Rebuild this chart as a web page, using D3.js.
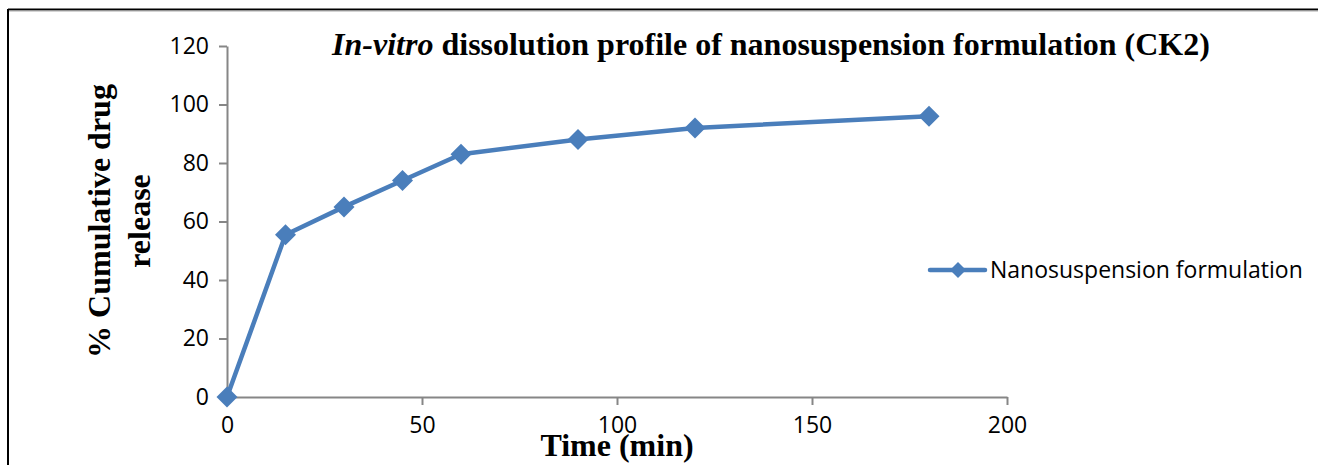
<!DOCTYPE html>
<html>
<head>
<meta charset="utf-8">
<script src="https://cdn.jsdelivr.net/npm/d3@7"></script>
<style>
  html, body { margin: 0; padding: 0; background: #fff; }
  svg { display: block; }
</style>
</head>
<body>
<svg id="chart" width="1318" height="465"></svg>
<script>
const times = [0, 15, 30, 45, 60, 90, 120, 180];
const release = [0, 55.5, 65, 74, 83, 88, 92, 96];
const seriesName = "Nanosuspension formulation";
const xTicks = [0, 50, 100, 150, 200];
const yTicks = [0, 20, 40, 60, 80, 100, 120];
const titleItalic = "In-vitro";
const titleRest = " dissolution profile of nanosuspension formulation (CK2)";
const yLabelLines = ["% Cumulative drug", "release"];
const xLabel = "Time (min)";

const svg = d3.select("#chart");
const W = 1318, H = 465;
const blue = "#4a7ebb";
const axisGray = "#868686";
const tickFont = "'Open Sans', 'Noto Sans', sans-serif";
const serif = "'Liberation Serif', 'Times New Roman', serif";

svg.append("rect").attr("width", W).attr("height", H).attr("fill", "#fff");

// outer frame (top and left visible)
svg.append("line").attr("x1", 8).attr("x2", W).attr("y1", 9.5).attr("y2", 9.5)
  .attr("stroke", "#000").attr("stroke-width", 2);
svg.append("line").attr("x1", 8).attr("x2", W).attr("y1", 11).attr("y2", 11)
  .attr("stroke", "#aaa").attr("stroke-width", 1);
svg.append("line").attr("x1", 8).attr("x2", 8).attr("y1", 9).attr("y2", H)
  .attr("stroke", "#000").attr("stroke-width", 2);

const x = d3.scaleLinear().domain([0, 200]).range([227, 1007]);
const y = d3.scaleLinear().domain([0, 120]).range([397, 46]);

// y axis
const yAxis = svg.append("g").attr("transform", `translate(${x(0)},0)`)
  .call(d3.axisLeft(y).tickValues(yTicks).tickSize(8).tickPadding(10).tickSizeOuter(0));
// x axis
const xAxis = svg.append("g").attr("transform", `translate(0,${y(0)})`)
  .call(d3.axisBottom(x).tickValues(xTicks).tickSize(8).tickPadding(12).tickSizeOuter(0));

[yAxis, xAxis].forEach(g => {
  g.select(".domain").attr("stroke", axisGray).attr("stroke-width", 2);
  g.selectAll(".tick line").attr("stroke", axisGray).attr("stroke-width", 2);
  g.selectAll(".tick text").attr("fill", "#000")
    .style("font-family", tickFont).style("font-size", "23px");
});

// line
const line = d3.line().x((d, i) => x(times[i])).y(d => y(d));
svg.append("path").datum(release).attr("d", line)
  .attr("fill", "none").attr("stroke", blue).attr("stroke-width", 4.5)
  .attr("stroke-linejoin", "round");

const diamond = r => `M0,${-r}L${r},0L0,${r}L${-r},0Z`;
svg.append("g").selectAll("path").data(release).join("path")
  .attr("d", diamond(10.5))
  .attr("transform", (d, i) => `translate(${x(times[i])},${y(d)})`)
  .attr("fill", blue);

// title
const title = svg.append("text").attr("x", 771).attr("y", 55)
  .attr("text-anchor", "middle")
  .style("font-family", serif).style("font-size", "32px").style("font-weight", "bold");
title.append("tspan").style("font-style", "italic").text(titleItalic);
title.append("tspan").text(titleRest);

// y label
const yl = svg.append("text")
  .attr("transform", "translate(0,221) rotate(-90)")
  .attr("text-anchor", "middle")
  .style("font-family", serif).style("font-size", "32px").style("font-weight", "bold");
yLabelLines.forEach((t, i) => {
  yl.append("tspan").attr("x", 0).attr("y", 110 + i * 40).text(t);
});

// x label
svg.append("text").attr("x", 617).attr("y", 456).attr("text-anchor", "middle")
  .style("font-family", serif).style("font-size", "32px").style("font-weight", "bold")
  .text(xLabel);

// legend
const lg = svg.append("g").attr("transform", "translate(930,270)");
lg.append("line").attr("x1", 0).attr("x2", 55).attr("y1", 0).attr("y2", 0)
  .attr("stroke", blue).attr("stroke-width", 4.5).attr("stroke-linecap", "round");
lg.append("path").attr("d", diamond(8)).attr("transform", "translate(28,0)").attr("fill", blue);
lg.append("text").attr("x", 60).attr("y", 8)
  .style("font-family", tickFont).style("font-size", "23px").text(seriesName);
</script>
</body>
</html>
